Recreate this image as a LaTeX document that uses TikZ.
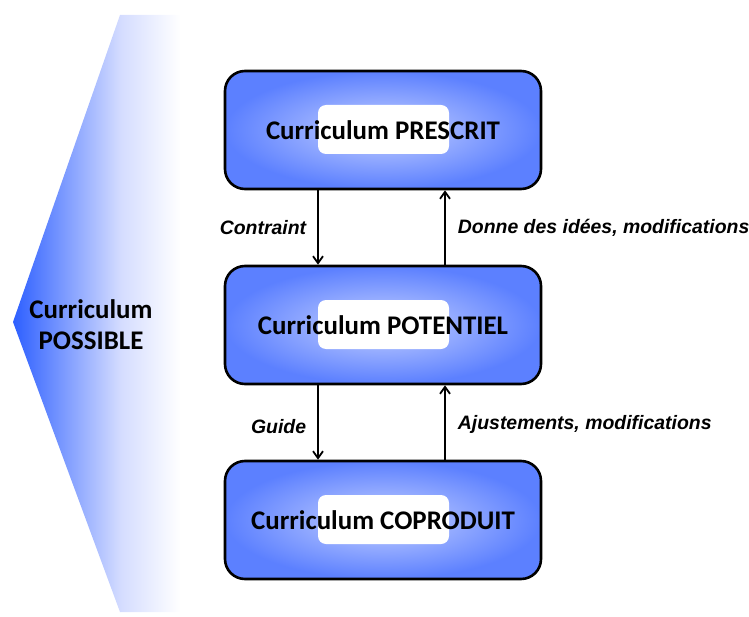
\documentclass[tikz,border=0pt]{standalone}
\usepackage{fontspec}
\setmainfont{Carlito}
\newfontfamily\labelfont{Liberation Sans}
\usetikzlibrary{arrows.meta, calc}

\definecolor{boxblue}{RGB}{92,128,255}
\definecolor{glowblue}{RGB}{196,208,255}
\definecolor{possblue}{RGB}{45,95,255}
\definecolor{posslight}{RGB}{212,220,255}
\pgfdeclarehorizontalshading{possshade}{100bp}{color(0bp)=(possblue); color(25bp)=(possblue); color(34bp)=(posslight); color(39bp)=(white); color(100bp)=(white)}

\begin{document}
\begin{tikzpicture}[x=1bp, y=-1bp,
  curr/.style={draw, line width=2.6bp, rounded corners=20bp, minimum width=316bp, minimum height=118bp,
    inner color=glowblue, outer color=boxblue, font=\fontsize{27}{31}\selectfont\bfseries,
    path picture={\fill[white, rounded corners=8bp] ($(path picture bounding box.center)+(-65,-25)$) rectangle ($(path picture bounding box.center)+(66,24)$);}},
  lbl/.style={font=\labelfont\fontsize{19.5}{23}\selectfont\bfseries\itshape, inner sep=0pt},
  arr/.style={-{Straight Barb[length=7bp, width=10bp]}, line width=1.8bp},
]
\useasboundingbox (0,0) rectangle (749,617);

% ---- possible curriculum (left)
\begin{scope}
\clip (120,15) -- (13,322) -- (120,612) -- (230,612) -- (230,15) -- cycle;
\shade[shading=possshade] (13,15) rectangle (610,612);
\end{scope}
\node[font=\fontsize{27}{31}\selectfont\bfseries, align=center] (poss) at (91,325) {Curriculum\\POSSIBLE};

% ---- three levels
\node[curr] (presc) at (383,130) {Curriculum PRESCRIT};
\node[curr] (poten) at (383,325) {Curriculum POTENTIEL};
\node[curr] (copro) at (383,520) {Curriculum COPRODUIT};

% ---- links
\draw[arr] ([xshift=-65bp]presc.south) -- node[lbl, left=11bp] (contr) {Contraint} ([xshift=-65bp]poten.north);
\draw[arr] ([xshift=62bp]poten.north) -- node[lbl, right=12bp] (donne) {Donne des idées, modifications} ([xshift=62bp]presc.south);
\draw[arr] ([xshift=-65bp]poten.south) -- node[lbl, left=11bp, yshift=-4bp] (guide) {Guide} ([xshift=-65bp]copro.north);
\draw[arr] ([xshift=62bp]copro.north) -- node[lbl, right=12bp, yshift=-2bp] (ajust) {Ajustements, modifications} ([xshift=62bp]poten.south);
\end{tikzpicture}
\end{document}
